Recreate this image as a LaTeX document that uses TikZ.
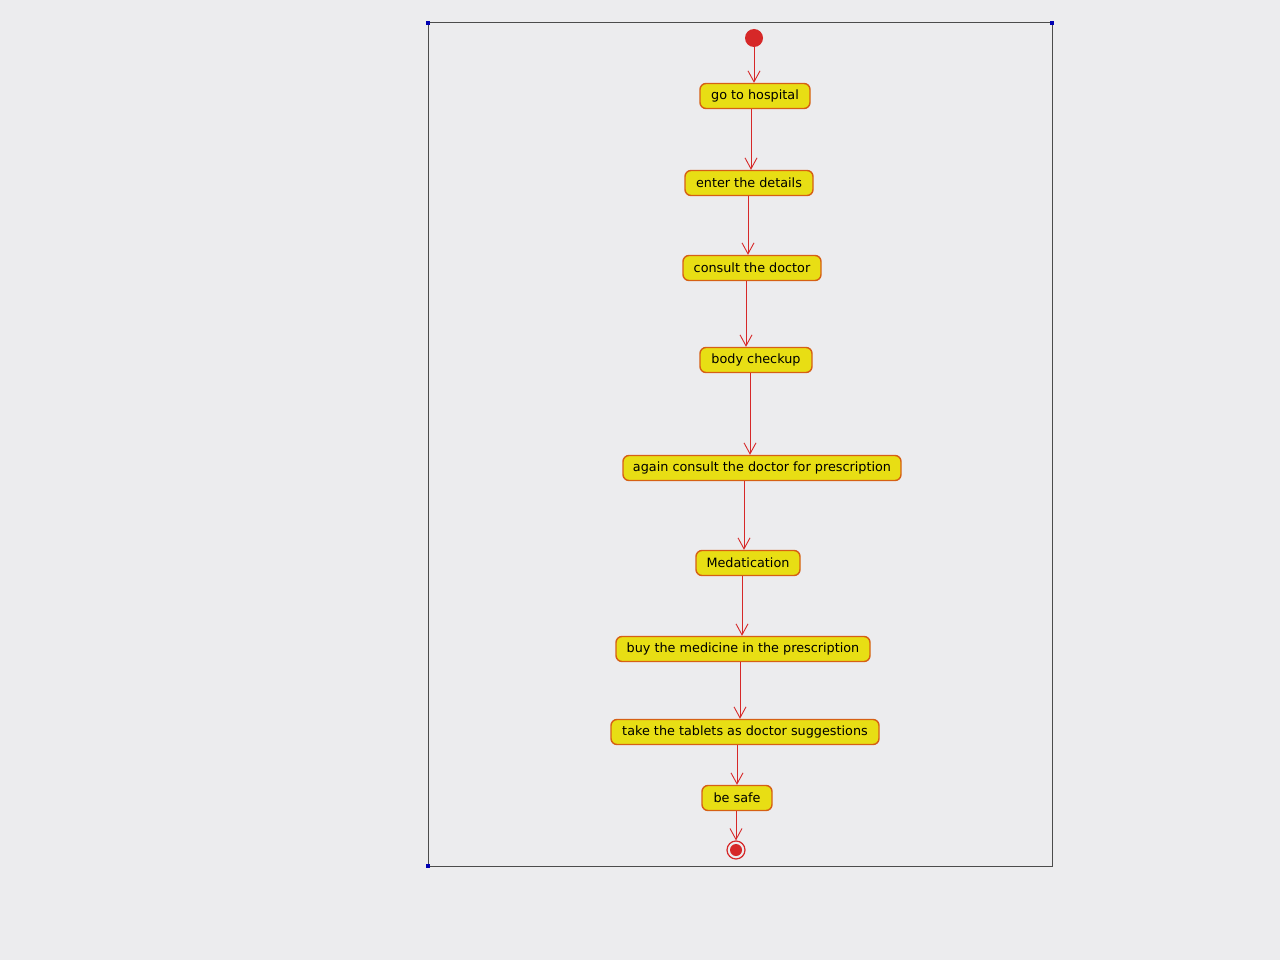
\documentclass[tikz,border=0pt]{standalone}
\usepackage{fontspec}
\setmainfont{DejaVu Sans}
\usetikzlibrary{arrows.meta}
\definecolor{actfill}{RGB}{232,222,20}
\definecolor{actline}{RGB}{214,96,20}
\definecolor{flow}{RGB}{214,40,40}
\definecolor{screen}{RGB}{236,236,238}

\begin{document}
\begin{tikzpicture}[x=1pt,y=-1pt,
	activity/.style={draw=actline,line width=1.4pt,fill=actfill,rounded corners=6pt,minimum height=25pt,inner xsep=5pt,font=\fontsize{12.8}{15}\selectfont,text=black},
	flowline/.style={draw=flow,line width=0.9pt,-{Straight Barb[length=11pt,width=12pt]}}]
	\useasboundingbox (0,0) rectangle (1280,960);
	\fill[screen] (0,0) rectangle (1280,960);
	\draw[line width=1pt,black!70] (428,23) rectangle (1052,866);
	\foreach \cx/\cy in {428/23,1052/23,428/866}
		\fill[blue!70!black] (\cx-2,\cy-2) rectangle (\cx+2,\cy+2);
	\node[circle,fill=flow,inner sep=0pt,minimum size=18pt] (start) at (754,38) {};
	\node[activity,minimum width=110pt] (hospital) at (755,96) {go to hospital};
	\node[activity,minimum width=128pt] (details) at (749,183) {enter the details};
	\node[activity,minimum width=138pt] (consult) at (752,268) {consult the doctor};
	\node[activity,minimum width=112pt] (checkup) at (756,360) {body checkup};
	\node[activity,minimum width=278pt] (again) at (762,468) {again consult the doctor for prescription};
	\node[activity,minimum width=104pt] (medic) at (748,563) {Medatication};
	\node[activity,minimum width=254pt] (buy) at (743,649) {buy the medicine in the prescription};
	\node[activity,minimum width=268pt] (tablets) at (745,732) {take the tablets as doctor suggestions};
	\node[activity,minimum width=70pt] (safe) at (737,798) {be safe};
	\node[circle,draw=flow,line width=1.2pt,inner sep=0pt,minimum size=18pt] (stop) at (736,850) {};
	\fill[flow] (stop) circle (6pt);
	\foreach \a/\b/\lx in {start/hospital/754,hospital/details/751,details/consult/748,consult/checkup/746,checkup/again/750,again/medic/744,medic/buy/742,buy/tablets/740,tablets/safe/737,safe/stop/736}{
		\coordinate (lane) at (\lx,0);
		\draw[flowline] (\a.south -| lane) -- (\b.north -| lane);
	}
\end{tikzpicture}
\end{document}
